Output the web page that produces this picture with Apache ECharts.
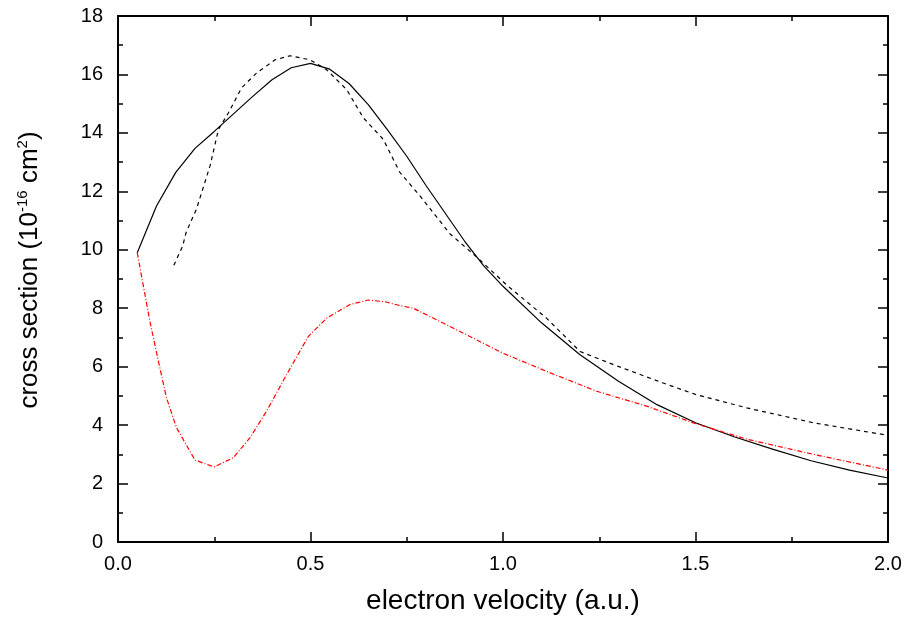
<!DOCTYPE html>
<html>
<head>
<meta charset="utf-8">
<title>cross section vs electron velocity</title>
<script src="https://cdn.jsdelivr.net/npm/echarts@6/dist/echarts.min.js"></script>
<style>
  html, body { margin: 0; padding: 0; background: #fff; }
  #chart { width: 908px; height: 620px; }
</style>
</head>
<body>
<div id="chart"></div>
<script>
// solid curve
var vSolid = [0.05, 0.1, 0.15, 0.2, 0.25, 0.3, 0.35, 0.4, 0.45, 0.5, 0.55, 0.6, 0.65, 0.7, 0.75, 0.8, 0.85, 0.9, 0.95, 1.0, 1.1, 1.2, 1.3, 1.4, 1.5, 1.6, 1.7, 1.8, 1.9, 2.0];
var sSolid = [9.9, 11.5, 12.65, 13.47, 14.05, 14.65, 15.25, 15.82, 16.23, 16.38, 16.18, 15.69, 14.97, 14.1, 13.2, 12.2, 11.25, 10.3, 9.45, 8.75, 7.5, 6.41, 5.5, 4.7, 4.08, 3.6, 3.18, 2.78, 2.46, 2.19];

// dashed curve
var vDash = [0.145, 0.168, 0.177, 0.204, 0.239, 0.261, 0.287, 0.321, 0.36, 0.408, 0.447, 0.499, 0.542, 0.594, 0.637, 0.689, 0.732, 0.784, 0.862, 0.932, 1.01, 1.113, 1.2, 1.287, 1.416, 1.5, 1.633, 1.806, 2.0];
var sDash = [9.47, 10.13, 10.6, 11.4, 12.87, 14.12, 14.69, 15.54, 16.05, 16.5, 16.64, 16.5, 16.16, 15.48, 14.52, 13.78, 12.65, 11.85, 10.55, 9.75, 8.79, 7.66, 6.52, 6.07, 5.44, 5.05, 4.59, 4.08, 3.65];

// red dash-dot curve
var vRed = [0.05, 0.083, 0.105, 0.126, 0.152, 0.2, 0.25, 0.3, 0.343, 0.386, 0.438, 0.494, 0.542, 0.603, 0.65, 0.694, 0.732, 0.767, 0.854, 1.0, 1.113, 1.243, 1.373, 1.5, 1.633, 1.806, 2.0];
var sRed = [9.9, 7.54, 6.18, 4.93, 3.91, 2.8, 2.57, 2.89, 3.57, 4.48, 5.73, 7.03, 7.66, 8.13, 8.28, 8.22, 8.09, 8.0, 7.43, 6.46, 5.84, 5.16, 4.65, 4.05, 3.52, 3.0, 2.46];

function pairs(xs, ys) {
  var out = [];
  for (var i = 0; i < xs.length; i++) out.push([xs[i], ys[i]]);
  return out;
}

var font = 'Liberation Sans, Arial, sans-serif';
var lineBlack = { color: '#000', width: 2 };

function frameAxis(pos, showLabel, min, max, interval) {
  return {
    type: 'value',
    position: pos,
    min: min,
    max: max,
    interval: interval,
    axisLine: { show: true, onZero: false, lineStyle: lineBlack },
    axisTick: { show: true, inside: true, length: 10, lineStyle: { color: '#000', width: 1.5 } },
    minorTick: { show: true, splitNumber: 2, length: 5, lineStyle: { color: '#000', width: 1.5 } },
    splitLine: { show: false },
    minorSplitLine: { show: false },
    axisLabel: { show: showLabel }
  };
}

var xBottom = frameAxis('bottom', true, 0, 2, 0.5);
xBottom.axisLabel = {
  show: true, margin: 12, color: '#000', fontSize: 20, fontFamily: font,
  formatter: function (v) { return v.toFixed(1); }
};
xBottom.name = 'electron velocity (a.u.)';
xBottom.nameLocation = 'middle';
xBottom.nameGap = 45;
xBottom.nameTextStyle = { color: '#000', fontSize: 28, fontFamily: font };

var yLeft = frameAxis('left', true, 0, 18, 2);
yLeft.axisLabel = { show: true, margin: 15, color: '#000', fontSize: 20, fontFamily: font };
yLeft.name = '{a|cross section (10}{b|-16}{a| cm}{b|2}{a|)}';
yLeft.nameLocation = 'middle';
yLeft.nameGap = 73;
yLeft.nameTextStyle = {
  color: '#000',
  padding: [0, 0, 0, 18],
  rich: {
    a: { fontSize: 26, fontFamily: font, color: '#000', lineHeight: 30 },
    b: { fontSize: 15, fontFamily: font, color: '#000', lineHeight: 16, verticalAlign: 'top' }
  }
};

var chart = echarts.init(document.getElementById('chart'));
chart.setOption({
  backgroundColor: '#fff',
  animation: false,
  grid: { left: 118, right: 20, top: 16, bottom: 75, containLabel: false },
  xAxis: [xBottom, frameAxis('top', false, 0, 2, 0.5)],
  yAxis: [yLeft, frameAxis('right', false, 0, 18, 2)],
  series: [
    {
      name: 'solid', type: 'line', showSymbol: false, symbol: 'none',
      data: pairs(vSolid, sSolid),
      lineStyle: { color: '#000', width: 1.2, type: 'solid' }
    },
    {
      name: 'dashed', type: 'line', showSymbol: false, symbol: 'none',
      data: pairs(vDash, sDash),
      lineStyle: { color: '#000', width: 1.2, type: [4, 4] }
    },
    {
      name: 'dashdot', type: 'line', showSymbol: false, symbol: 'none',
      data: pairs(vRed, sRed),
      lineStyle: { color: '#ff0000', width: 1.2, type: [5, 2, 1, 2] }
    }
  ]
});
</script>
</body>
</html>
